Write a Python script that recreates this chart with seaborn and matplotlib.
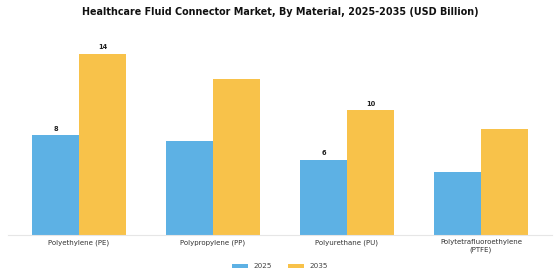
import matplotlib
matplotlib.use("Agg")
import matplotlib.pyplot as plt
import seaborn as sns
import pandas as pd

# data
materials = ["Polyethylene (PE)", "Polypropylene (PP)", "Polyurethane (PU)",
             "Polytetrafluoroethylene\n(PTFE)"]
years = ["2025", "2035"]
values_2025 = [8.0, 7.5, 6.0, 5.05]
values_2035 = [14.5, 12.5, 10.0, 8.5]
labelled = ["Polyethylene (PE)", "Polyurethane (PU)"]  # only these get value labels
colors = ["#5DB1E4", "#F8C24A"]

df = pd.DataFrame({
    "Material": materials * 2,
    "Year": [years[0]] * 4 + [years[1]] * 4,
    "Value": values_2025 + values_2035,
})

sns.set_theme(style="white")
plt.rcParams["font.family"] = ["DejaVu Sans"]

fig = plt.figure(figsize=(5.6, 2.8), dpi=100)
ax = fig.add_axes([8 / 560, 45 / 280, 544 / 560, 199.5 / 280])

sns.barplot(data=df, x="Material", y="Value", hue="Year", order=materials,
            hue_order=years, palette=colors, width=0.7, saturation=1,
            edgecolor="none", ax=ax)

# value labels on selected groups
for container, yr in zip(ax.containers, years):
    for bar, mat in zip(container, materials):
        if mat in labelled:
            ax.text(bar.get_x() + bar.get_width() / 2, bar.get_height() + 0.3,
                    f"{bar.get_height():.0f}", ha="center", va="bottom",
                    fontsize=4.8, fontweight="bold", color="#222222")

ax.set_xlim(-0.53, 3.53)
ax.set_ylim(0, 16)
ax.set_xlabel("")
ax.set_ylabel("")
ax.set_yticks([])
ax.tick_params(axis="x", length=0, labelsize=5, colors="#333333", pad=3)
for s in ["top", "right", "left"]:
    ax.spines[s].set_visible(False)
ax.spines["bottom"].set_color("#E6E6E6")
ax.spines["bottom"].set_linewidth(0.8)

ax.legend(loc="upper center", bbox_to_anchor=(0.5, -0.11), ncol=2, frameon=False,
          fontsize=5.2, handlelength=2.2, handleheight=0.6, columnspacing=2.2,
          labelcolor="#444444")

fig.suptitle("Healthcare Fluid Connector Market, By Material, 2025-2035 (USD Billion)",
             fontsize=6.9, fontweight="bold", y=0.975, color="#111111")

fig.savefig("out.png", dpi=100)
